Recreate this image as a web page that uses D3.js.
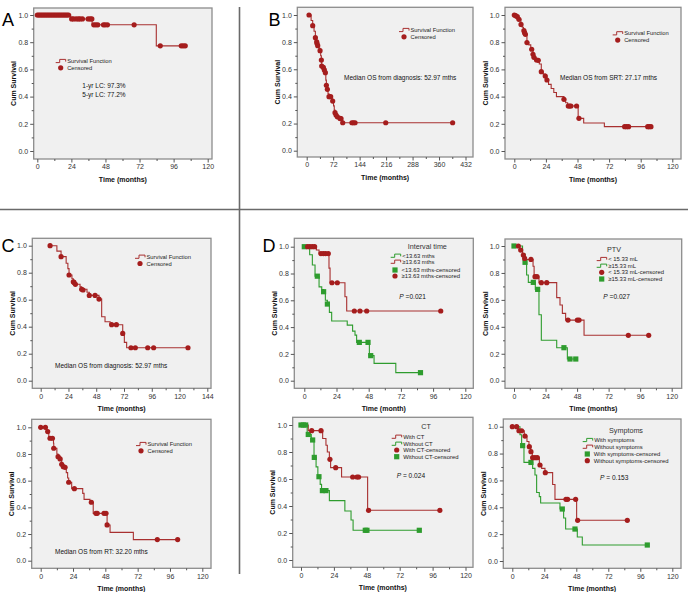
<!DOCTYPE html>
<html><head><meta charset="utf-8">
<script src="https://cdn.jsdelivr.net/npm/d3@7"></script>
<style>body{margin:0;background:#fff}svg{display:block}text{font-family:Arial,"Liberation Sans",sans-serif}</style>
</head><body><svg id="c" width="688" height="592"></svg>
<script>
// ---------- DATA ----------
const timeTicks120 = [0, 24, 48, 72, 96, 120];
const timeTicks144 = [0, 24, 48, 72, 96, 120, 144];
const timeTicks432 = [0, 72, 144, 216, 288, 360, 432];
const survTicks = [0, 0.2, 0.4, 0.6, 0.8, 1.0];

// Panel A: local control
const lcSteps = [[0,1],[23.5,0.971],[38.6,0.928],[83.8,0.773]];
const lcCensored = [[0,1],[1,1],[2,1],[3,1],[4,1],[5,1],[6,1],[7,1],[8,1],[9,1],[10,1],[11,1],[12,1],[13,1],[14,1],[15,1],[16,1],[17,1],[18,1],[19,1],[20,1],[21,1],[22,1],
  [24.2,0.971],[25.4,0.971],[27.3,0.971],[28.9,0.971],[30.1,0.971],[31.8,0.971],[35.8,0.971],[37.2,0.971],[38.4,0.971],
  [39.8,0.928],[41.2,0.928],[42.6,0.928],[46.6,0.928],[47.8,0.928],[49.4,0.928],[68.2,0.928],
  [86.6,0.773],[101.4,0.773],[102.8,0.773],[104.2,0.773]];

// Panel B left: OS from diagnosis
const osDxSteps = [[6.3,1],[12,0.96],[16.3,0.921],[20,0.88],[23.6,0.833],[27.2,0.803],[28.1,0.79],[30,0.774],[33,0.755],[36.3,0.737],[38,0.70],[39.9,0.668],[40.8,0.624],[45.3,0.614],[48,0.595],[50.8,0.575],[52,0.52],[53.5,0.482],[56.2,0.452],[58,0.42],[60.7,0.398],[68,0.38],[70.7,0.366],[73,0.33],[75,0.30],[77,0.28],[79.8,0.263],[83.4,0.25],[90.7,0.238],[96,0.22],[98,0.206]];
const osDxCensored = [[6.3,1],[16.3,0.921],[23.6,0.833],[27.2,0.803],[28.1,0.79],[30,0.774],[36.3,0.737],[39.9,0.668],[40.8,0.624],[45.3,0.614],[48,0.595],[50.8,0.575],[53.5,0.482],[56.2,0.452],[60.7,0.398],[65.3,0.398],[70.7,0.366],[77,0.28],[79.8,0.263],[83.4,0.25],[90.7,0.238],[93.4,0.236],[98,0.206],[123,0.206],[127,0.206],[131.5,0.206],[215,0.206],[397,0.206]];

// Panel B right: OS from SRT
const osSrtSteps = [[0,1],[0.8,0.995],[2,0.988],[3,0.968],[5,0.931],[6,0.91],[7,0.885],[8,0.858],[9.6,0.797],[11,0.78],[12.5,0.748],[14.2,0.711],[14.9,0.689],[16.5,0.669],[19,0.64],[20.5,0.583],[22,0.565],[23.5,0.551],[24.8,0.522],[26,0.49],[28,0.46],[30,0.43],[32,0.40],[37.7,0.38],[39,0.355],[40.5,0.331],[48.5,0.24],[52.7,0.206],[68.4,0.179]];
const osSrtCensored = [[0,1],[1,0.995],[2.3,0.988],[3.5,0.968],[5.1,0.931],[7.3,0.885],[7.8,0.87],[8.4,0.858],[9.6,0.797],[13.2,0.748],[14.2,0.711],[14.9,0.689],[16.9,0.669],[18.2,0.667],[20.5,0.583],[23.5,0.551],[24.8,0.522],[37.7,0.38],[41,0.331],[42,0.331],[43,0.331],[47.3,0.331],[49.1,0.24],[83.8,0.179],[85.3,0.179],[86.8,0.179],[101.3,0.179],[102.5,0.179],[103.8,0.179]];

// Panel C top: OS from diagnosis
const cDxSteps = [[8.1,1],[14,0.96],[17.6,0.919],[22,0.87],[23.5,0.83],[24.5,0.783],[27,0.755],[28.2,0.733],[30,0.714],[34,0.695],[35.4,0.677],[40,0.655],[42,0.632],[50.4,0.605],[52.7,0.474],[55.6,0.437],[60,0.415],[70.9,0.35],[72.3,0.284],[74.3,0.244]];
const cDxCensored = [[8.1,1],[17.6,0.919],[24.5,0.783],[28.2,0.733],[28.8,0.728],[30,0.714],[35.4,0.677],[36.6,0.672],[42,0.632],[47,0.632],[50.4,0.605],[61.3,0.415],[65.4,0.415],[70.9,0.35],[78,0.244],[81.8,0.244],[92.5,0.244],[97.6,0.244],[127.3,0.244]];

// Panel C bottom: OS from RT
const cRtSteps = [[0,1],[4.5,0.968],[6,0.918],[9.5,0.88],[9.7,0.843],[12,0.80],[12.9,0.78],[14.4,0.763],[15.6,0.723],[16.8,0.705],[19,0.66],[20,0.62],[20.8,0.588],[23,0.54],[31.2,0.505],[32.2,0.46],[36.6,0.438],[39,0.355],[49.3,0.268],[51.5,0.2125],[68.8,0.158]];
const cRtCensored = [[0,1],[3.5,1],[5.2,0.968],[6.9,0.918],[8.7,0.918],[9.7,0.843],[12.9,0.78],[14.4,0.763],[15.6,0.723],[16.8,0.705],[18.1,0.70],[20.8,0.588],[25,0.54],[37.6,0.438],[41,0.355],[42,0.355],[47,0.355],[48.5,0.355],[49.3,0.268],[86.6,0.158],[101.7,0.158]];

// Panel D: interval time
const intLongSteps = [[0,1],[9,0.975],[11,0.948],[18.4,0.84],[19.2,0.731],[30.3,0.627],[31.6,0.52]];
const intLongCensored = [[2.5,1],[4.2,1],[6,1],[7.7,1],[12.4,0.948],[14.2,0.948],[15.9,0.948],[17.9,0.948],[20.6,0.731],[24.6,0.731],[37.3,0.52],[41.5,0.52],[46.5,0.52],[101.7,0.52]];
const intShortSteps = [[0,1],[4,0.94],[6,0.863],[8,0.78],[11,0.70],[13,0.68],[14.4,0.664],[15.7,0.60],[17.2,0.572],[18.7,0.51],[20.4,0.445],[32,0.415],[36,0.37],[37.8,0.34],[39,0.286],[48.5,0.187],[52,0.129],[68.2,0.06]];
const intShortCensored = [[0,1],[9.7,0.78],[14.4,0.664],[17.2,0.572],[41,0.286],[47.5,0.286],[49.5,0.187],[86.6,0.06]];

// Panel D: PTV
const ptvSmallSteps = [[0,1],[4.3,0.97],[6.5,0.933],[8,0.908],[9,0.90],[14.5,0.85],[15.3,0.772],[19,0.728],[32.5,0.617],[35,0.562],[36.8,0.50],[39.3,0.45],[53.3,0.337]];
const ptvSmallCensored = [[3.3,1],[5.1,0.97],[7.1,0.933],[8.1,0.908],[12.9,0.90],[16,0.772],[17.5,0.772],[20.8,0.728],[24.9,0.728],[41.1,0.45],[48.2,0.45],[49.5,0.45],[87,0.337],[102.5,0.337]];
const ptvLargeSteps = [[0,1],[6.5,0.94],[8.4,0.879],[9.6,0.785],[10.9,0.73],[16.2,0.678],[19,0.49],[20.8,0.30],[32.5,0.245],[40.6,0.161]];
const ptvLargeCensored = [[0,1],[8.4,0.879],[14.7,0.73],[18,0.678],[38,0.245],[42.6,0.161],[47,0.161]];

// Panel D: CT
const ctWithSteps = [[0,1],[5.3,0.958],[15.8,0.90],[18.2,0.85],[19.2,0.80],[20.7,0.746],[21.6,0.684],[29.6,0.615],[48.6,0.368]];
const ctWithCensored = [[7.8,0.958],[14.6,0.958],[21.1,0.746],[25.3,0.684],[37.7,0.615],[40.8,0.615],[42,0.615],[49.3,0.368],[101.3,0.368]];
const ctWithoutSteps = [[0,1],[4.5,0.93],[7.5,0.889],[9.5,0.76],[11,0.69],[12.3,0.617],[14,0.56],[15,0.514],[20.7,0.44],[32,0.363],[36.5,0.296],[38,0.22]];
const ctWithoutCensored = [[0,1],[1.7,1],[3.4,1],[5.3,0.93],[8.5,0.889],[9.7,0.76],[13.1,0.617],[15.6,0.514],[18.2,0.514],[46.9,0.22],[48.1,0.22],[86.3,0.22]];

// Panel D: symptoms
const symNoSteps = [[0,1],[4.5,0.97],[9,0.93],[11,0.89],[12.5,0.851],[13.8,0.814],[15,0.769],[20.3,0.715],[22,0.69],[24.5,0.658],[30.25,0.57],[32,0.459],[48.25,0.303]];
const symNoCensored = [[0,1],[3.25,1],[5,0.97],[7,0.97],[9.5,0.93],[12.75,0.851],[14,0.814],[15.25,0.769],[17,0.769],[18.75,0.769],[20.75,0.715],[24.75,0.658],[40.25,0.459],[41.5,0.459],[47.5,0.459],[49,0.303],[86.25,0.303]];
const symYesSteps = [[0,1],[5.75,0.94],[7,0.859],[8.75,0.734],[15.25,0.69],[17,0.64],[18.25,0.51],[20.25,0.479],[21.25,0.432],[35.75,0.387],[38.5,0.32],[40,0.238],[48.75,0.179],[52.5,0.119]];
const symYesCensored = [[7.75,0.859],[14,0.734],[37.5,0.387],[47,0.238],[101.25,0.119]];

// ---------- STYLE / LAYOUT ----------
const RED = "#a51d1d", REDLINE = "#a83030", GREEN = "#2e9c2e";
const svg = d3.select("#c");

const panels = [
  {frame:[33.7,8,212,159], x0:37.3, x1:207.7, xMax:120, ticks:timeTicks120, yTop:15, yBot:151, xTitle:"Time (months)",
   curves:[{steps:lcSteps, cens:lcCensored, line:REDLINE, fill:RED, mark:"circle"}],
   kmLegend:[55.7,61], notes:[["1-yr LC: 97.3%",82.3,86],["5-yr LC: 77.2%",82.3,94.3]]},
  {frame:[297.3,7.3,473,157], x0:306.7, x1:465.5, xMax:432, ticks:timeTicks432, yTop:15, yBot:150.7, xTitle:"Time (months)",
   curves:[{steps:osDxSteps, cens:osDxCensored, line:REDLINE, fill:RED, mark:"circle"}],
   kmLegend:[399,30], notes:[["Median OS from diagnosis: 52.97 mths",344,77.3]]},
  {frame:[505,7.3,681,159], x0:514.3, x1:672.3, xMax:120, ticks:timeTicks120, yTop:15, yBot:151, xTitle:"Time (months)",
   curves:[{steps:osSrtSteps, cens:osSrtCensored, line:REDLINE, fill:RED, mark:"circle"}],
   kmLegend:[612.7,33.3], notes:[["Median OS from SRT: 27.17 mths",560,77.7]]},
  {frame:[32.3,238.3,211,388.3], x0:40.7, x1:207.3, xMax:144, ticks:timeTicks144, yTop:245.7, yBot:380.7, xTitle:"Time (months)",
   curves:[{steps:cDxSteps, cens:cDxCensored, line:REDLINE, fill:RED, mark:"circle"}],
   kmLegend:[135,256.7], notes:[["Median OS from diagnosis: 52.97 mths",55,365.7]]},
  {frame:[31.7,419.3,211,568.3], x0:40.7, x1:202.3, xMax:120, ticks:timeTicks120, yTop:427.3, yBot:560.7, xTitle:"Time (months)",
   curves:[{steps:cRtSteps, cens:cRtCensored, line:REDLINE, fill:RED, mark:"circle"}],
   kmLegend:[136,444], notes:[["Median OS from RT: 32.20 mths",55,551.7]]},
  {frame:[294.3,238.3,473.3,388.3], x0:304.3, x1:465.3, xMax:120, ticks:timeTicks120, yTop:246.7, yBot:380.7, xTitle:"Time (month)",
   curves:[{steps:intShortSteps, cens:intShortCensored, line:GREEN, fill:GREEN, mark:"square"},
           {steps:intLongSteps, cens:intLongCensored, line:REDLINE, fill:RED, mark:"circle"}],
   groupLegend:{title:"Interval time", tx:427.3, ty:246.7, ix:390.7, mx:395, rows:[255.7,261.7,270,276],
     items:[["step",GREEN,"<13.63 mths"],["step",REDLINE,"\u226513.63 mths"],["square",GREEN,"<13.63 mths-censored"],["circle",RED,"\u226513.63 mths-censored"]]},
   pval:["=0.021",399.3,296.7]},
  {frame:[505,239,681.7,388.3], x0:514, x1:671.7, xMax:120, ticks:timeTicks120, yTop:246, yBot:380.7, xTitle:"Time (months)",
   curves:[{steps:ptvLargeSteps, cens:ptvLargeCensored, line:GREEN, fill:GREEN, mark:"square"},
           {steps:ptvSmallSteps, cens:ptvSmallCensored, line:REDLINE, fill:RED, mark:"circle"}],
   groupLegend:{title:"PTV", tx:614, ty:249, ix:596.7, mx:601.7, rows:[259,265.7,272.3,279],
     items:[["step",REDLINE,"< 15.33 mL"],["step",GREEN,"\u226515.33 mL"],["circle",RED,"< 15.33 mL-censored"],["square",GREEN,"\u226515.33 mL-censored"]]},
   pval:["=0.027",603.3,296.7]},
  {frame:[292.7,417.3,473,567.3], x0:301, x1:465.5, xMax:120, ticks:timeTicks120, yTop:425, yBot:560, xTitle:"Time (months)",
   curves:[{steps:ctWithoutSteps, cens:ctWithoutCensored, line:GREEN, fill:GREEN, mark:"square"},
           {steps:ctWithSteps, cens:ctWithCensored, line:REDLINE, fill:RED, mark:"circle"}],
   groupLegend:{title:"CT", tx:426, ty:426.7, ix:391.7, mx:396.7, rows:[436.7,443.7,450,456.7],
     items:[["step",REDLINE,"With CT"],["step",GREEN,"Without CT"],["circle",RED,"With CT-censored"],["square",GREEN,"Without CT-censored"]]},
   pval:["= 0.024",396.7,476]},
  {frame:[503.3,419,681,568.3], x0:512.3, x1:672.3, xMax:120, ticks:timeTicks120, yTop:426.7, yBot:561, xTitle:"Time (months)",
   curves:[{steps:symYesSteps, cens:symYesCensored, line:GREEN, fill:GREEN, mark:"square"},
           {steps:symNoSteps, cens:symNoCensored, line:REDLINE, fill:RED, mark:"circle"}],
   groupLegend:{title:"Symptoms", tx:626, ty:430, ix:582.7, mx:587.3, rows:[440,446.7,454,460.7],
     items:[["step",GREEN,"With symptoms"],["step",REDLINE,"Without symptoms"],["square",GREEN,"With symptoms-censored"],["circle",RED,"Without symptoms-censored"]]},
   pval:["= 0.153",600,477.7]}
];

const panelLetters = [["A",2,26],["B",268.5,26],["C",1.5,251.7],["D",262.5,252]];

// ---------- DRAW ----------
// separators
svg.append("line").attr("x1",239.5).attr("x2",239.5).attr("y1",7).attr("y2",574).attr("stroke","#6a6a6a").attr("stroke-width",1.6);
svg.append("line").attr("x1",0).attr("x2",688).attr("y1",209.5).attr("y2",209.5).attr("stroke","#6a6a6a").attr("stroke-width",1.6);

function stepIcon(g, x, y, color){
  g.append("path").attr("d",`M${x},${y+1.6}H${x+4}V${y-1.6}H${x+10}V${y+0.6}`)
    .attr("fill","none").attr("stroke",color).attr("stroke-width",1);
}
function marker(g, type, x, y, color){
  if(type==="circle") g.append("circle").attr("cx",x).attr("cy",y).attr("r",2.6).attr("fill",color);
  else g.append("rect").attr("x",x-2.6).attr("y",y-2.6).attr("width",5.2).attr("height",5.2).attr("fill",color);
}

panels.forEach(p=>{
  const [L,T,R,B] = p.frame;
  const g = svg.append("g");
  const x = d3.scaleLinear().domain([0,p.xMax]).range([p.x0,p.x1]);
  const y = d3.scaleLinear().domain([0,1]).range([p.yBot,p.yTop]);

  g.append("rect").attr("x",L).attr("y",T).attr("width",R-L).attr("height",B-T)
    .attr("fill","#f0f0f0").attr("stroke","#8c8c8c").attr("stroke-width",1.3);

  // axes
  const step = p.ticks[1]-p.ticks[0];
  const xMinor = p.ticks.slice(0,-1).map(t=>t+step/2);
  const yMinor = survTicks.slice(0,-1).map(t=>t+0.1);
  const xa = g.append("g").attr("transform",`translate(0,${B})`)
    .call(d3.axisBottom(x).tickValues(p.ticks).tickSize(3.5).tickSizeOuter(0).tickPadding(2).tickFormat(d3.format("d")));
  const xm = g.append("g").attr("transform",`translate(0,${B})`)
    .call(d3.axisBottom(x).tickValues(xMinor).tickSize(2).tickSizeOuter(0).tickFormat(""));
  const ya = g.append("g").attr("transform",`translate(${L},0)`)
    .call(d3.axisLeft(y).tickValues(survTicks).tickSize(3.5).tickSizeOuter(0).tickPadding(2).tickFormat(d3.format(".1f")));
  const ym = g.append("g").attr("transform",`translate(${L},0)`)
    .call(d3.axisLeft(y).tickValues(yMinor).tickSize(2).tickSizeOuter(0).tickFormat(""));
  [xa,xm,ya,ym].forEach(a=>{
    a.select(".domain").remove();
    a.selectAll("line").attr("stroke","#555");
    a.selectAll("text").attr("font-size",7).attr("fill","#333").attr("font-family","Arial, 'Liberation Sans', sans-serif");
  });

  // titles
  g.append("text").attr("x",(L+R)/2).attr("y",B+22.5).attr("text-anchor","middle")
    .attr("font-size",7).attr("font-weight","bold").attr("fill","#111").text(p.xTitle);
  g.append("text").attr("transform",`translate(${L-17.5},${(T+B)/2}) rotate(-90)`).attr("text-anchor","middle")
    .attr("font-size",7).attr("font-weight","bold").attr("fill","#111").text("Cum Survival");

  // curves
  const line = d3.line().x(d=>x(d[0])).y(d=>y(d[1])).curve(d3.curveStepAfter);
  p.curves.forEach(c=>{
    const last = c.steps[c.steps.length-1];
    const endT = Math.max(last[0], d3.max(c.cens,d=>d[0]));
    const pts = c.steps.concat([[endT,last[1]]]);
    g.append("path").attr("d",line(pts)).attr("fill","none").attr("stroke",c.line).attr("stroke-width",1.1);
  });
  p.curves.forEach(c=>{
    c.cens.forEach(d=>marker(g,c.mark,x(d[0]),y(d[1]),c.fill));
  });

  // legends
  if(p.kmLegend){
    const [lx,ly] = p.kmLegend;
    stepIcon(g,lx,ly,REDLINE);
    g.append("text").attr("x",lx+11.5).attr("y",ly+2).attr("font-size",5.8).attr("fill","#222").text("Survival Function");
    marker(g,"circle",lx+5,ly+6.8,RED);
    g.append("text").attr("x",lx+11.5).attr("y",ly+8.8).attr("font-size",5.8).attr("fill","#222").text("Censored");
  }
  if(p.notes){
    p.notes.forEach(n=>g.append("text").attr("x",n[1]).attr("y",n[2]+2.3).attr("font-size",6.5).attr("fill","#111").text(n[0]));
  }
  if(p.groupLegend){
    const gl = p.groupLegend;
    g.append("text").attr("x",gl.tx).attr("y",gl.ty+2.6).attr("text-anchor","middle").attr("font-size",7.2).attr("fill","#333").text(gl.title);
    gl.items.forEach((it,i)=>{
      const ry = gl.rows[i];
      if(it[0]==="step"){
        stepIcon(g,gl.ix,ry,it[1]);
        g.append("text").attr("x",gl.ix+11.5).attr("y",ry+2).attr("font-size",5.9).attr("fill","#222").text(it[2]);
      } else {
        marker(g,it[0],gl.mx,ry,it[1]);
        g.append("text").attr("x",gl.mx+6.5).attr("y",ry+2).attr("font-size",5.9).attr("fill","#222").text(it[2]);
      }
    });
  }
  if(p.pval){
    const t = g.append("text").attr("x",p.pval[1]).attr("y",p.pval[2]+2.3).attr("font-size",6.6).attr("fill","#111");
    t.append("tspan").attr("font-style","italic").text("P");
    t.append("tspan").text(" "+p.pval[0]);
  }
});

panelLetters.forEach(l=>{
  svg.append("text").attr("x",l[1]).attr("y",l[2]).attr("font-size",18).attr("fill","#000").text(l[0]);
});
</script></body></html>
